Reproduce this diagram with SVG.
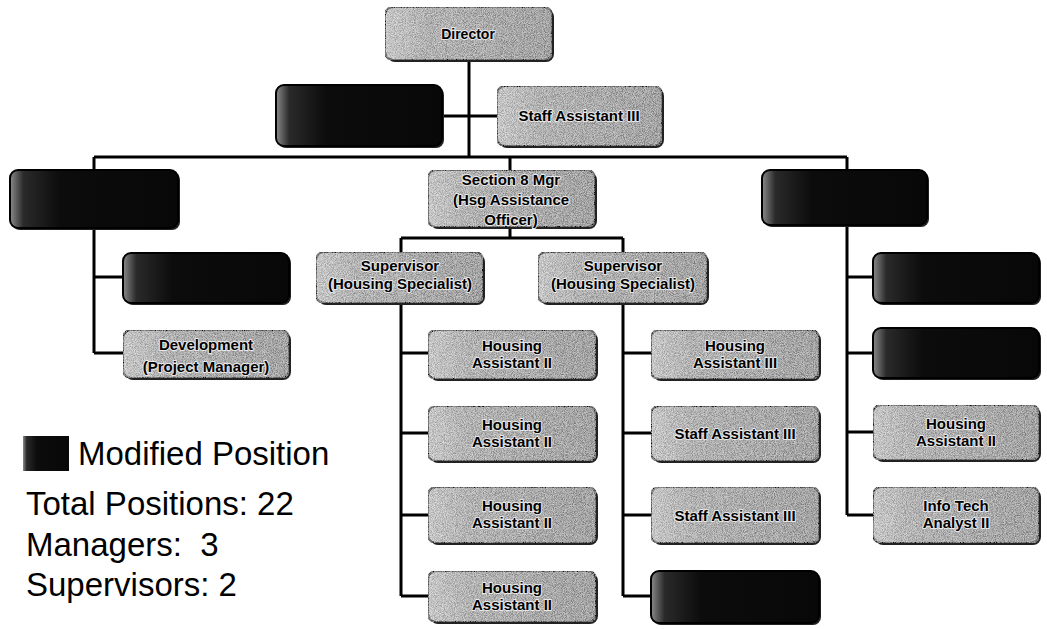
<svg xmlns="http://www.w3.org/2000/svg" width="1047" height="629" viewBox="0 0 1047 629">
<defs>
<linearGradient id="gGray" x1="0" y1="0" x2="1" y2="0">
<stop offset="0" stop-color="#cccccc"/>
<stop offset="0.25" stop-color="#adadad"/>
<stop offset="1" stop-color="#959595"/>
</linearGradient>
<linearGradient id="gDark" x1="0" y1="0" x2="1" y2="0">
<stop offset="0" stop-color="#8a8a8a"/>
<stop offset="0.08" stop-color="#2a2a2a"/>
<stop offset="0.3" stop-color="#0c0c0c"/>
<stop offset="1" stop-color="#080808"/>
</linearGradient>
<filter id="grain" x="0" y="0" width="100%" height="100%">
<feTurbulence type="fractalNoise" baseFrequency="1.1" numOctaves="2" seed="7" result="t"/>
<feColorMatrix in="t" type="saturate" values="0" result="g"/>
<feComponentTransfer in="g" result="g2">
<feFuncR type="linear" slope="3" intercept="-1"/>
<feFuncG type="linear" slope="3" intercept="-1"/>
<feFuncB type="linear" slope="3" intercept="-1"/>
<feFuncA type="linear" slope="0" intercept="0.35"/>
</feComponentTransfer>
<feComposite in="g2" in2="SourceAlpha" operator="in" result="gm"/>
<feMerge><feMergeNode in="SourceGraphic"/><feMergeNode in="gm"/></feMerge>
</filter>
</defs>
<style>
.box{fill:url(#gGray);stroke:#1a1a1a;stroke-width:2;filter:url(#grain)}
.dark{fill:url(#gDark);stroke:#000;stroke-width:2}
.sh{fill:#222}
.t{font-family:"Liberation Sans",Arial,sans-serif;font-weight:bold;font-size:15px;fill:#000;text-anchor:middle;stroke:#e8e8e8;stroke-width:2px;paint-order:stroke;stroke-linejoin:round}
.leg{font-family:"Liberation Sans",Arial,sans-serif;font-size:33px;fill:#000;white-space:pre}
.c{fill:none;stroke:#000;stroke-width:3}
</style>
<rect width="1047" height="629" fill="#fff"/>

<g id="connectors">
<path class="c" d="M469 60V157"/>
<path class="c" d="M442 116H497"/>
<path class="c" d="M94 157H847"/>
<path class="c" d="M94 157V170M94 228V353M94 277H123M94 353H123"/>
<path class="c" d="M510 157V170M510 227V238M401 238H623M401 238V252M623 238V252"/>
<path class="c" d="M401 303V596M401 353H428M401 433H428M401 515H428M401 596H428"/>
<path class="c" d="M623 303V596M623 353H651M623 433H651M623 515H651M623 596H651"/>
<path class="c" d="M847 157V170M847 225V515M847 277H873M847 353H873M847 432H873M847 515H873"/>
</g>

<g id="director"><rect class="sh" x="387" y="9" width="167" height="53" rx="8"/><rect class="box" x="385" y="7" width="167" height="53" rx="8"/><text class="t" x="468" y="39" style="font-size:14px">Director</text></g>
<g id="modified-top"><rect class="sh" x="278" y="87" width="166" height="61" rx="8"/><rect class="dark" x="276" y="85" width="166" height="61" rx="8"/></g>
<g id="staff-assistant-top"><rect class="sh" x="499" y="88" width="165" height="60" rx="8"/><rect class="box" x="497" y="86" width="165" height="60" rx="8"/><text class="t" x="579" y="121">Staff Assistant III</text></g>

<g id="manager-left"><rect class="sh" x="12" y="172" width="168" height="58" rx="8"/><rect class="dark" x="10" y="170" width="168" height="58" rx="8"/></g>
<g id="section8-mgr"><rect class="sh" x="430" y="172" width="167" height="57" rx="8"/><rect class="box" x="428" y="170" width="167" height="57" rx="8"/><text class="t" x="511" y="185">Section 8 Mgr</text><text class="t" x="511" y="205">(Hsg Assistance</text><text class="t" x="511" y="225">Officer)</text></g>
<g id="manager-right"><rect class="sh" x="764" y="172" width="165" height="55" rx="8"/><rect class="dark" x="762" y="170" width="165" height="55" rx="8"/></g>

<g id="left-modified"><rect class="sh" x="125" y="255" width="166" height="50" rx="8"/><rect class="dark" x="123" y="253" width="166" height="50" rx="8"/></g>
<g id="development"><rect class="sh" x="125" y="332" width="166" height="48" rx="8"/><rect class="box" x="123" y="330" width="166" height="48" rx="8"/><text class="t" x="206" y="350">Development</text><text class="t" x="206" y="372">(Project Manager)</text></g>

<g id="supervisor-1"><rect class="sh" x="318" y="254" width="167" height="51" rx="8"/><rect class="box" x="316" y="252" width="167" height="51" rx="8"/><text class="t" x="400" y="271">Supervisor</text><text class="t" x="400" y="289">(Housing Specialist)</text></g>
<g id="supervisor-2"><rect class="sh" x="540" y="254" width="169" height="51" rx="8"/><rect class="box" x="538" y="252" width="169" height="51" rx="8"/><text class="t" x="623" y="271">Supervisor</text><text class="t" x="623" y="289">(Housing Specialist)</text></g>

<g id="ha-1"><rect class="sh" x="430" y="332" width="168" height="49" rx="8"/><rect class="box" x="428" y="330" width="168" height="49" rx="8"/><text class="t" x="512" y="351">Housing</text><text class="t" x="512" y="368">Assistant II</text></g>
<g id="ha-2"><rect class="sh" x="430" y="408" width="168" height="55" rx="8"/><rect class="box" x="428" y="406" width="168" height="55" rx="8"/><text class="t" x="512" y="430">Housing</text><text class="t" x="512" y="447">Assistant II</text></g>
<g id="ha-3"><rect class="sh" x="430" y="489" width="168" height="56" rx="8"/><rect class="box" x="428" y="487" width="168" height="56" rx="8"/><text class="t" x="512" y="511">Housing</text><text class="t" x="512" y="528">Assistant II</text></g>
<g id="ha-4"><rect class="sh" x="430" y="573" width="168" height="51" rx="8"/><rect class="box" x="428" y="571" width="168" height="51" rx="8"/><text class="t" x="512" y="593">Housing</text><text class="t" x="512" y="610">Assistant II</text></g>

<g id="ha3-1"><rect class="sh" x="653" y="332" width="168" height="49" rx="8"/><rect class="box" x="651" y="330" width="168" height="49" rx="8"/><text class="t" x="735" y="351">Housing</text><text class="t" x="735" y="368">Assistant III</text></g>
<g id="sa3-1"><rect class="sh" x="653" y="408" width="168" height="55" rx="8"/><rect class="box" x="651" y="406" width="168" height="55" rx="8"/><text class="t" x="735" y="439">Staff Assistant III</text></g>
<g id="sa3-2"><rect class="sh" x="653" y="489" width="168" height="56" rx="8"/><rect class="box" x="651" y="487" width="168" height="56" rx="8"/><text class="t" x="735" y="521">Staff Assistant III</text></g>
<g id="modified-col2"><rect class="sh" x="653" y="573" width="168" height="52" rx="8"/><rect class="dark" x="651" y="571" width="168" height="52" rx="8"/></g>

<g id="right-modified-1"><rect class="sh" x="875" y="255" width="166" height="50" rx="8"/><rect class="dark" x="873" y="253" width="166" height="50" rx="8"/></g>
<g id="right-modified-2"><rect class="sh" x="875" y="330" width="166" height="50" rx="8"/><rect class="dark" x="873" y="328" width="166" height="50" rx="8"/></g>
<g id="ha-right"><rect class="sh" x="875" y="407" width="166" height="55" rx="8"/><rect class="box" x="873" y="405" width="166" height="55" rx="8"/><text class="t" x="956" y="429">Housing</text><text class="t" x="956" y="446">Assistant II</text></g>
<g id="info-tech"><rect class="sh" x="875" y="489" width="166" height="56" rx="8"/><rect class="box" x="873" y="487" width="166" height="56" rx="8"/><text class="t" x="956" y="511">Info Tech</text><text class="t" x="956" y="528">Analyst II</text></g>

<g id="legend">
<rect x="23" y="436" width="46" height="35" fill="url(#gDark)"/>
<text class="leg" x="78" y="465">Modified Position</text>
<text class="leg" x="26" y="515">Total Positions: 22</text>
<text class="leg" x="26" y="556" xml:space="preserve">Managers:  3</text>
<text class="leg" x="26" y="596">Supervisors: 2</text>
</g>
</svg>
